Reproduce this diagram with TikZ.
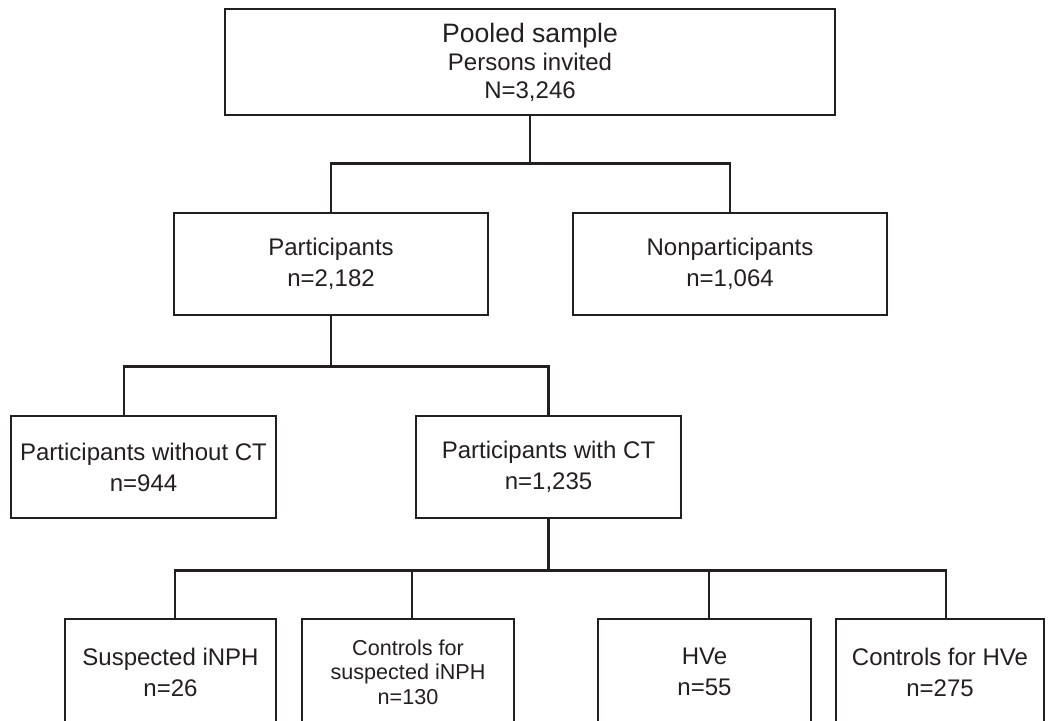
\documentclass[tikz,border=0pt]{standalone}
\usepackage{fontspec}
\setmainfont{Liberation Sans}
\definecolor{linegray}{RGB}{35,31,32}

\begin{document}
\begin{tikzpicture}[x=0.5pt,y=-0.5pt,
    box/.style={draw=linegray,line width=1.4pt,align=center,inner sep=0pt,
        text=linegray,font=\fontsize{12}{15.5}\selectfont},
    link/.style={draw=linegray,line width=1.4pt}]
                \useasboundingbox (0,0) rectangle (1048,720);

                % boxes
                \node[box,minimum width=305pt,minimum height=53pt,font=\fontsize{12}{14}\selectfont] (pooled) at (530,62)
                    {{\fontsize{13.3}{14}\selectfont Pooled sample}\\Persons invited\\N=3,246};
                \node[box,minimum width=157pt,minimum height=51pt] (part) at (331,264) {Participants\\n=2,182};
                \node[box,minimum width=157pt,minimum height=51pt] (nonpart) at (730,264) {Nonparticipants\\n=1,064};
                \node[box,minimum width=132.5pt,minimum height=51pt] (noct) at (143.5,467) {Participants without CT\\n=944};
                \node[box,minimum width=132.5pt,minimum height=51pt] (withct) at (548.5,467) {Participants with CT\\n=1,235};
                \node[box,minimum width=105.5pt,minimum height=53pt] (inph) at (170.5,672) {Suspected iNPH\\n=26};
                \node[box,minimum width=106pt,minimum height=53pt,font=\fontsize{10.8}{12.3}\selectfont] (ctrlinph) at (408,672)
                    {Controls for\\suspected iNPH\\n=130};
                \node[box,minimum width=106.5pt,minimum height=53pt] (hve) at (704.5,672) {HVe\\n=55};
                \node[box,minimum width=104pt,minimum height=53pt] (ctrlhve) at (940,672) {Controls for HVe\\n=275};

                % connectors
                \draw[link] (pooled.south) -- ++(0,47) coordinate (bus1);
                \draw[link] (part.north) |- (bus1) -| (nonpart.north);

                \draw[link] (part.south) -- ++(0,50) coordinate (bus2);
                \draw[link] ([xshift=-9.75pt]noct.north) |- (bus2) -| (withct.north);

                \draw[link] (withct.south) -- ++(0,51) coordinate (bus3);
                \draw[link] ([xshift=2.25pt]inph.north) |- (bus3) -| ([xshift=3pt]ctrlhve.north);
                \draw[link] ([xshift=2pt]ctrlinph.north) -- ([xshift=2pt]ctrlinph.north |- bus3);
                \draw[link] ([xshift=2.25pt]hve.north) -- ([xshift=2.25pt]hve.north |- bus3);
            \end{tikzpicture}
\end{document}
